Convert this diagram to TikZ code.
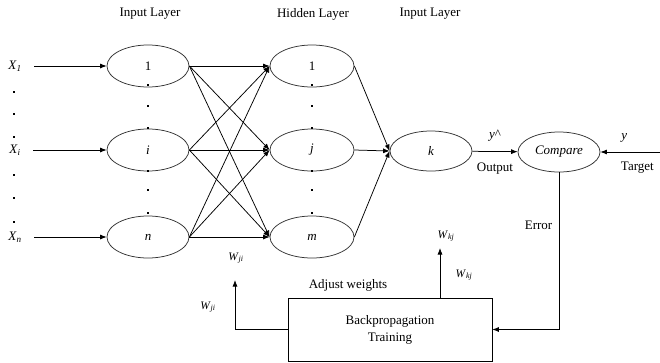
\documentclass[tikz,border=0pt]{standalone}
\usepackage{fontspec}
\setmainfont{Liberation Serif}
\usetikzlibrary{arrows.meta, shapes.geometric, positioning}
\newcommand{\vsub}[2]{\textit{#1}\textsubscript{\textit{#2}}}

\begin{document}
\begin{tikzpicture}[>={Latex[length=6.5pt, width=5pt]}, x=1pt, y=-1pt, line width=0.75pt, every node/.style={font=\fontsize{13}{17}\selectfont}]
    % Define styles for neurons, the training block, weight labels and dots
    \tikzstyle{neuron} = [draw=black!80, ellipse, minimum width=82pt, minimum height=42pt, inner sep=0pt]
    \tikzstyle{block} = [draw, rectangle, minimum width=204pt, minimum height=63pt, align=center]
    \tikzstyle{wlabel} = [font=\fontsize{11.5}{13}\selectfont]
    \tikzstyle{dot} = [fill, rectangle, inner sep=0pt, minimum size=2.8pt]
    \useasboundingbox (0,0) rectangle (660,362);

    % Layer titles
    \node (inlabel) at (150,14) {Input Layer};
    \node (hidlabel) at (313,14) {Hidden Layer};
    \node (outlabel) at (430,14) {Input Layer};

    % Nodes placement
    \node [neuron] (in1) at (148,66) {1};
    \node [neuron] (ini) at (148,150) {\textit{i}};
    \node [neuron] (inn) at (148,237) {\textit{n}};
    \node [neuron, minimum width=84pt] (hid1) at (312,66) {1};
    \node [neuron, minimum width=84pt] (hidj) at (312,150) {\textit{j}};
    \node [neuron, minimum width=84pt] (hidm) at (312,237) {\textit{m}};
    \node [neuron, minimum height=40pt] (outk) at (431,151) {\textit{k}};
    \node [neuron, minimum height=40pt] (cmp) at (559,152) {\textit{Compare}};
    \node [block] (bp) at (390,329.5) {Backpropagation\\Training};

    % Inputs
    \node (x1) at (15,66) {\vsub{X}{1}};
    \node (xi) at (15,150) {\vsub{X}{i}};
    \node (xn) at (15,237) {\vsub{X}{n}};
    \coordinate (tgt) at (660,152);

    % Dots between the nodes
    \foreach \y [count=\n] in {92,114,137,175,198,222}
        \node [dot] (dx\n) at (14,\y) {};
    \foreach \y [count=\n] in {85,106,128,171,190,213} {
        \node [dot] (di\n) at (148,\y) {};
        \node [dot] (dh\n) at (312,\y) {};
    }

    % Draw edges
    \foreach \x/\a in {x1/in1, xi/ini, xn/inn}
        \draw [->, shorten <=9pt] (\x) -- (\a);
    \foreach \a in {in1, ini, inn}
        \foreach \b in {hid1, hidj, hidm}
            \draw [->] (\a.east) -- (\b.west);
    \foreach \b in {hid1, hidj, hidm}
        \draw [->] (\b.east) -- (outk.west);
    \draw [->] (outk) -- node[above=6pt] {\textit{y}\^{}} node[below=8pt] {Output} (cmp);
    \draw [->] (tgt) -- node[above=6pt, pos=0.6] {\textit{y}} node[below=6pt, pos=0.38] {Target} (cmp);

    % Error feedback and weight updates
    \draw [->] (cmp.south) |- node[pos=0.17, left=3pt] {Error} (bp.east);
    \coordinate (wkj) at (440,248);
    \coordinate (wji) at (235,280);
    \draw [->] (wkj |- bp.north) -- (wkj);
    \draw [->] (bp.west) -| (wji);

    % Labels on the weights
    \node [wlabel] (wkjtop) at (446,236) {\vsub{W}{kj}};
    \node [wlabel] (wkjside) at (464,275) {\vsub{W}{kj}};
    \node [wlabel] (wjitop) at (236,258) {\vsub{W}{ji}};
    \node [wlabel] (wjiside) at (208,307) {\vsub{W}{ji}};
    \node (adjust) at (348,285) {Adjust weights};
\end{tikzpicture}
\end{document}
